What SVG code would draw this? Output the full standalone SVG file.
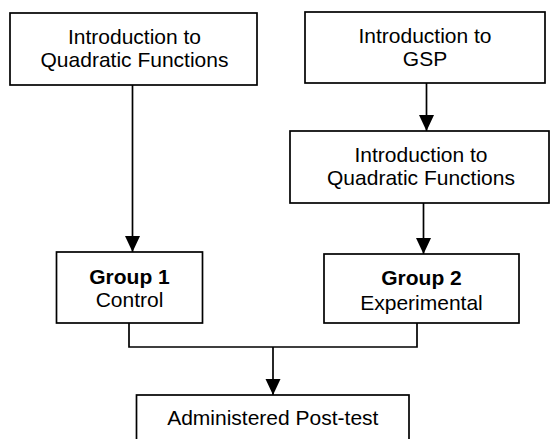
<svg xmlns="http://www.w3.org/2000/svg" width="551" height="439" viewBox="0 0 551 439">
  <style>
    .box { fill: #ffffff; stroke: #000000; stroke-width: 1.7; }
    .t { font-family: "Liberation Sans", Arial, sans-serif; font-size: 21px; fill: #000000; text-anchor: middle; }
    .b { font-weight: bold; }
    .c { fill: none; stroke: #000000; stroke-width: 1.7; }
  </style>
  <defs>
    <marker id="ah" markerUnits="userSpaceOnUse" markerWidth="16" markerHeight="16" refX="16" refY="7.5" orient="auto">
      <path d="M0,0 L16,7.5 L0,15 Z" fill="#000000"/>
    </marker>
  </defs>
  <rect width="551" height="439" fill="#ffffff"/>

  <g id="connectors">
    <line class="c" x1="132.5" y1="85" x2="132.5" y2="252" marker-end="url(#ah)"/>
    <line class="c" x1="426.5" y1="83" x2="426.5" y2="131" marker-end="url(#ah)"/>
    <line class="c" x1="423.5" y1="203" x2="423.5" y2="254" marker-end="url(#ah)"/>
    <polyline class="c" points="129,323 129,347 417,347 417,323"/>
    <line class="c" x1="273" y1="347" x2="273" y2="395" marker-end="url(#ah)"/>
  </g>

  <g id="intro-quad-1">
    <rect class="box" x="10" y="13" width="247" height="72"/>
    <text class="t" x="134.5" y="43.5">Introduction to</text>
    <text class="t" x="134.5" y="66.5">Quadratic Functions</text>
  </g>

  <g id="intro-gsp">
    <rect class="box" x="305" y="12" width="240" height="71"/>
    <text class="t" x="425" y="42.5">Introduction to</text>
    <text class="t" x="425" y="66">GSP</text>
  </g>

  <g id="intro-quad-2">
    <rect class="box" x="290" y="131" width="259" height="72"/>
    <text class="t" x="421" y="161.5">Introduction to</text>
    <text class="t" x="421" y="185">Quadratic Functions</text>
  </g>

  <g id="group1">
    <rect class="box" x="56.5" y="252" width="146" height="71"/>
    <text class="t b" x="129.5" y="284">Group 1</text>
    <text class="t" x="129.5" y="307">Control</text>
  </g>

  <g id="group2">
    <rect class="box" x="324" y="254" width="195" height="69"/>
    <text class="t b" x="421.5" y="285">Group 2</text>
    <text class="t" x="421.5" y="309.5">Experimental</text>
  </g>

  <g id="posttest">
    <rect class="box" x="136.5" y="395" width="272.5" height="60"/>
    <text class="t" x="272.8" y="425">Administered Post-test</text>
  </g>
</svg>
